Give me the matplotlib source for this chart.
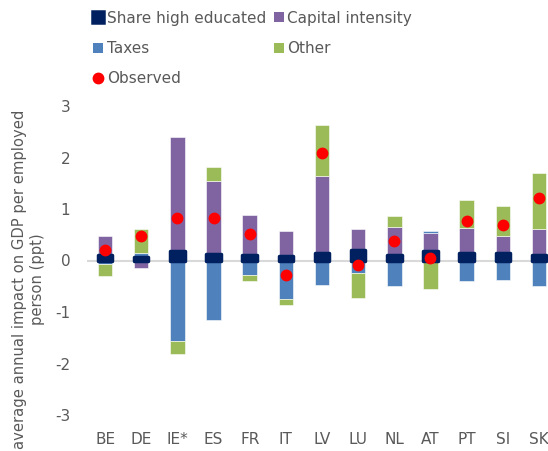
import numpy as np
import matplotlib.pyplot as plt
from matplotlib.lines import Line2D

plt.rcParams['axes.unicode_minus'] = False

countries = ['BE', 'DE', 'IE*', 'ES', 'FR', 'IT', 'LV', 'LU', 'NL', 'AT', 'PT', 'SI', 'SK']
high_educ = [0.11, 0.06, 0.19, 0.12, 0.10, 0.08, 0.15, 0.20, 0.10, 0.18, 0.14, 0.14, 0.10]
capital = [0.37, -0.14, 2.20, 1.43, 0.79, 0.49, 1.50, 0.42, 0.55, 0.35, 0.49, 0.34, 0.52]
taxes = [-0.06, 0.08, -1.56, -1.15, -0.28, -0.74, -0.48, -0.25, -0.50, 0.04, -0.40, -0.37, -0.49]
other = [-0.24, 0.47, -0.26, 0.27, -0.12, -0.13, 0.98, -0.47, 0.21, -0.56, 0.55, 0.57, 1.07]
observed = [0.20, 0.47, 0.82, 0.82, 0.52, -0.28, 2.08, -0.08, 0.38, 0.04, 0.77, 0.68, 1.21]

NAVY = '#002060'
PURPLE = '#8064A2'
BLUE = '#4F81BD'
GREEN = '#9BBB59'
GREY = '#595959'

fig = plt.figure(figsize=(5.48, 4.51), dpi=100)
ax = fig.add_axes([87 / 548, 36 / 451, 461 / 548, 309 / 451])

x = np.arange(len(countries))
pos_base = np.zeros(len(countries))
neg_base = np.zeros(len(countries))

# stacked bars, positives go up and negatives go down, in series order
series = [(high_educ, NAVY), (capital, PURPLE), (taxes, BLUE), (other, GREEN)]
for vals, col in series:
    vals = np.array(vals)
    bottom = np.where(vals >= 0, pos_base, neg_base)
    if col == NAVY:
        ax.bar(x, vals, 0.40, bottom=bottom, color=col, edgecolor=col,
               linewidth=2.5, joinstyle='round', zorder=4)
    else:
        ax.bar(x, vals, 0.40, bottom=bottom, color=col, edgecolor='white',
               linewidth=0.4, zorder=3)
    pos_base = pos_base + np.where(vals >= 0, vals, 0)
    neg_base = neg_base + np.where(vals < 0, vals, 0)

ax.plot(x, observed, 'o', color='red', markersize=7.5, zorder=5, linestyle='none')

ax.axhline(0, color='#D9D9D9', linewidth=1.5, zorder=1)

ax.set_ylim(-3, 3)
ax.set_xlim(-0.5, 12.25)
ax.set_yticks([-3, -2, -1, 0, 1, 2, 3])
ax.set_xticks(x)
ax.set_xticklabels(countries)
ax.tick_params(axis='both', length=0, labelsize=11, colors=GREY)
ax.tick_params(axis='x', pad=12)
ax.tick_params(axis='y', pad=12)
for s in ax.spines.values():
    s.set_visible(False)

ax.set_ylabel('average annual impact on GDP per employed\nperson (ppt)',
              fontsize=10.6, color=GREY)
ax.yaxis.set_label_coords(-0.092, 0.44)

def sq(col, size=6.5, ew=0.0):
    return Line2D([], [], marker='s', linestyle='none', color=col,
                  markersize=size, markeredgewidth=ew, markeredgecolor=col)

handles = [sq(NAVY, 8, 1.8), sq(BLUE),
           Line2D([], [], marker='o', linestyle='none', color='red', markersize=7.5),
           sq(PURPLE), sq(GREEN)]
labels = ['Share high educated', 'Taxes', 'Observed', 'Capital intensity', 'Other']
leg = fig.legend(handles, labels, ncol=2, loc='upper left',
                 bbox_to_anchor=(80 / 548, 1 + 3 / 451), frameon=False,
                 fontsize=11, handlelength=0.6, handletextpad=0.25,
                 columnspacing=0.55, labelspacing=1.0)
for t in leg.get_texts():
    t.set_color(GREY)

fig.savefig('out.png', dpi=100)
